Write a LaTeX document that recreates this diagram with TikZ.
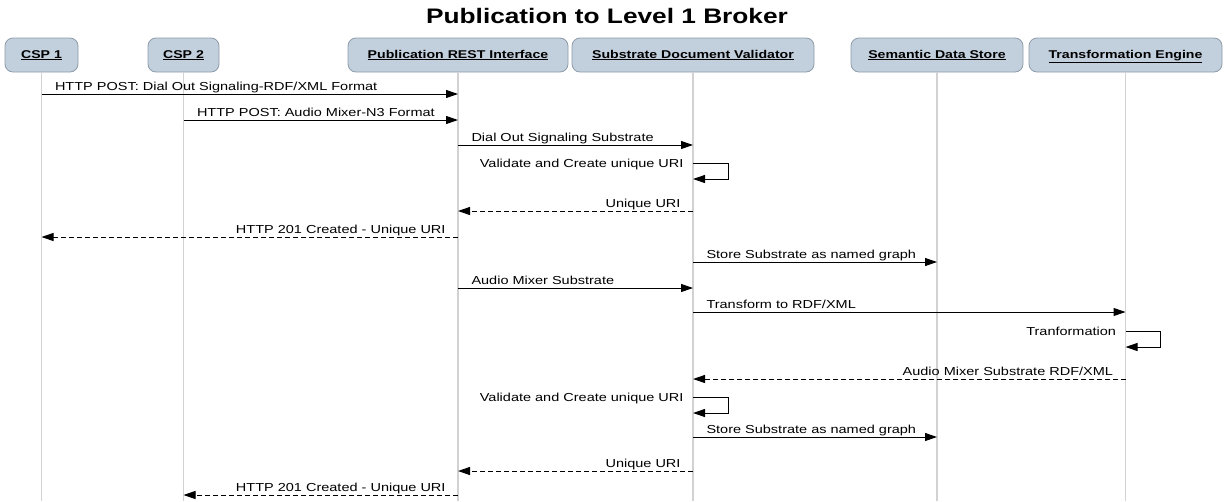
\documentclass[tikz,border=0pt]{standalone}
\usepackage{fontspec}
\setmainfont{Liberation Sans}[FakeStretch=1.25]
\usetikzlibrary{arrows.meta}
\definecolor{headfill}{HTML}{C2CFDC}
\definecolor{headdraw}{HTML}{8E9CAA}
\definecolor{lifegray}{HTML}{D2D2D2}

\begin{document}
\begin{tikzpicture}[x=1pt,y=-1pt,
  actor/.style={draw=headdraw, fill=headfill, rounded corners=8pt, line width=0.8pt,
    minimum height=34pt, inner sep=0pt, text height=9pt, text depth=3pt,
    font=\fontsize{11.3pt}{14pt}\selectfont\bfseries},
  lifeline/.style={draw=lifegray, line width=1.2pt},
  msg/.style={draw=black, line width=1pt, -{Triangle[length=12pt,width=8pt]}},
  reply/.style={msg, dash pattern=on 5pt off 3pt},
  lbl/.style={font=\fontsize{11.6pt}{14pt}\selectfont, inner sep=0pt},
  fwd/.style={lbl, pos=0, anchor=base west, xshift=13pt, yshift=4pt},
  bwd/.style={lbl, pos=0, anchor=base east, xshift=-12pt, yshift=4pt},
  selfl/.style={lbl, pos=0, anchor=base east, xshift=-9pt, yshift=-4pt}]

\useasboundingbox[fill=white] (0,0) rectangle (1225,501);

% title
\node[font=\fontsize{21pt}{24pt}\selectfont\bfseries, anchor=base, inner sep=0pt]
  (title) at (607,23) {Publication to Level 1 Broker};

% participants
\node[actor, minimum width=73pt]  (csp1) at (41.5,55)  {\underline{CSP 1}};
\node[actor, minimum width=71pt]  (csp2) at (183.5,55) {\underline{CSP 2}};
\node[actor, minimum width=220pt] (pri)  at (458,55)   {\underline{Publication REST Interface}};
\node[actor, minimum width=242pt] (sdv)  at (693,55)   {\underline{Substrate Document Validator}};
\node[actor, minimum width=172pt] (sds)  at (937,55)   {\underline{Semantic Data Store}};
\node[actor, minimum width=193pt] (te)   at (1125.5,55){\underline{Transformation Engine}};

% lifelines
\coordinate (bottom) at (0,501);
\foreach \p in {csp1,csp2,pri,sdv,sds,te}
  \draw[lifeline] (\p.south) -- (\p.south |- bottom);

% message rows
\coordinate (r1) at (0,94);
\coordinate (r2) at (0,120);
\coordinate (r3) at (0,145);
\coordinate (r4) at (0,163);
\coordinate (r5) at (0,211);
\coordinate (r6) at (0,237);
\coordinate (r7) at (0,262);
\coordinate (r8) at (0,288);
\coordinate (r9) at (0,312);
\coordinate (r10) at (0,331);
\coordinate (r11) at (0,379);
\coordinate (r12) at (0,397);
\coordinate (r13) at (0,437);
\coordinate (r14) at (0,471);
\coordinate (r15) at (0,495);

% messages
\draw[msg] (csp1 |- r1) -- node[fwd] {HTTP POST: Dial Out Signaling-RDF/XML Format} (pri |- r1);
\draw[msg] (csp2 |- r2) -- node[fwd] {HTTP POST: Audio Mixer-N3 Format} (pri |- r2);
\draw[msg] (pri |- r3) -- node[fwd] {Dial Out Signaling Substrate} (sdv |- r3);
\draw[msg] (sdv |- r4) -- node[selfl] {Validate and Create unique URI} ++(35,0) -- ++(0,16) -- ++(-35,0);
\draw[reply] (sdv |- r5) -- node[bwd] {Unique URI} (pri |- r5);
\draw[reply] (pri |- r6) -- node[bwd] {HTTP 201 Created - Unique URI} (csp1 |- r6);
\draw[msg] (sdv |- r7) -- node[fwd] {Store Substrate as named graph} (sds |- r7);
\draw[msg] (pri |- r8) -- node[fwd] {Audio Mixer Substrate} (sdv |- r8);
\draw[msg] (sdv |- r9) -- node[fwd] {Transform to RDF/XML} (te |- r9);
\draw[msg] (te |- r10) -- node[selfl] {Tranformation} ++(35,0) -- ++(0,16) -- ++(-35,0);
\draw[reply] (te |- r11) -- node[bwd] {Audio Mixer Substrate RDF/XML} (sdv |- r11);
\draw[msg] (sdv |- r12) -- node[selfl] {Validate and Create unique URI} ++(35,0) -- ++(0,16) -- ++(-35,0);
\draw[msg] (sdv |- r13) -- node[fwd] {Store Substrate as named graph} (sds |- r13);
\draw[reply] (sdv |- r14) -- node[bwd] {Unique URI} (pri |- r14);
\draw[reply] (pri |- r15) -- node[bwd] {HTTP 201 Created - Unique URI} (csp2 |- r15);
\end{tikzpicture}
\end{document}
